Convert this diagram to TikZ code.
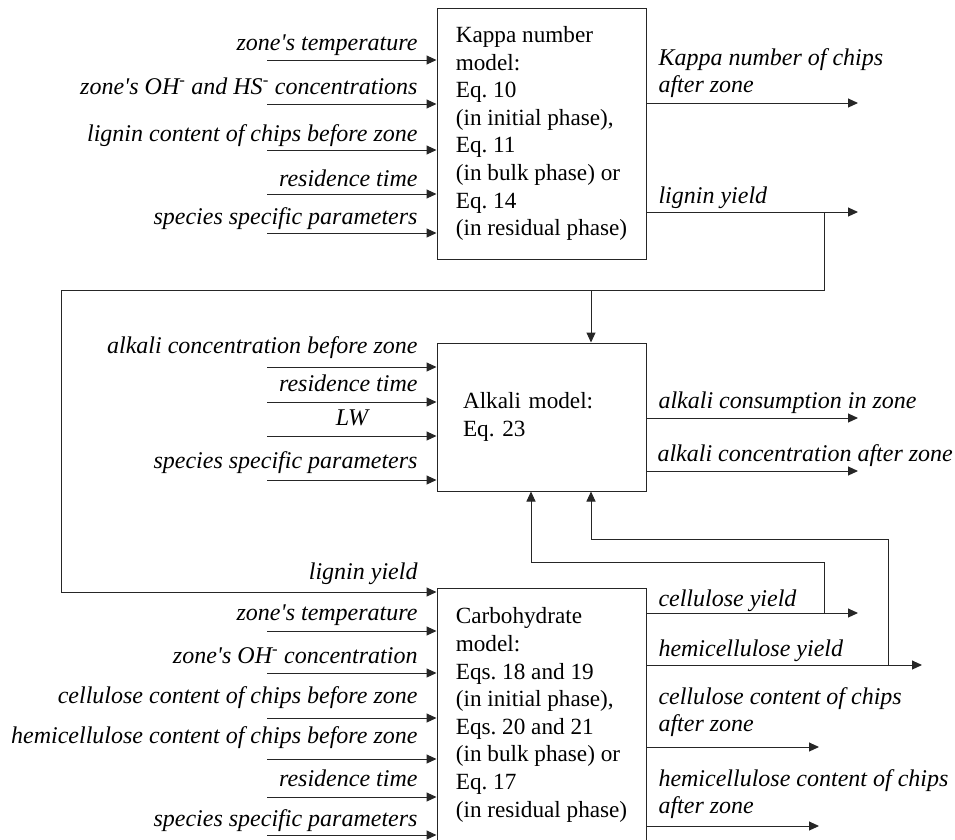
\documentclass[tikz,border=0pt]{standalone}
\usepackage{fontspec}
\setmainfont{Liberation Serif}
\usetikzlibrary{arrows.meta}
\frenchspacing
\newcommand{\apo}{\textquotesingle}
\begin{document}
\begin{tikzpicture}[x=1pt,y=-1pt,line width=1pt,
  arr/.style={draw=black!85,-{Triangle[length=10pt,width=9pt]}},
  model/.style={draw=black!85,minimum width=209pt,inner xsep=0pt,
    inner ysep=0pt,align=left,font=\fontsize{23.2}{27.6}\selectfont},
  lbl/.style={inner sep=0pt,yshift=-4pt,font=\fontsize{24}{27}\selectfont\itshape},
  lbll/.style={lbl,anchor=mid east},
  lblr/.style={lbl,anchor=mid west},
  lblr2/.style={lbl,anchor=west,align=left,yshift=1pt}]
\clip (0,0) rectangle (955,839);

% model blocks
\node[model,minimum height=251pt] (kappa) at (541.5,133.5)
  {Kappa number\\model:\\Eq. 10\\(in initial phase),\\Eq. 11\\(in bulk phase) or\\Eq. 14\\(in residual phase)};
\node[model,minimum height=148pt,text width=157pt,inner xsep=26pt] (alkali) at (541.5,417)
  {Alkali model:\\Eq. 23};
\node[model,minimum height=254pt] (carbo) at (541.5,715)
  {Carbohydrate\\model:\\Eqs. 18 and 19\\(in initial phase),\\Eqs. 20 and 21\\(in bulk phase) or\\Eq. 17\\(in residual phase)};

% inputs of the kappa number model
\foreach \n/\y in {1/60,2/104,3/150,4/194,5/233}{
  \coordinate (ki\n) at (267,\y);
  \draw[arr] (ki\n) -- (ki\n -| kappa.west);
}
\node[lbll] (kl1) at (418,44) {zone\apo s temperature};
\node[lbll] (kl2) at (418,88) {zone\apo s OH\textsuperscript{-} and HS\textsuperscript{-} concentrations};
\node[lbll] (kl3) at (418,135) {lignin content of chips before zone};
\node[lbll] (kl4) at (418,180) {residence time};
\node[lbll] (kl5) at (418,218) {species specific parameters};

% outputs of the kappa number model
\coordinate (ko1) at (858,103);
\coordinate (ko2) at (858,212);
\draw[arr] (ko1 -| kappa.east) -- (ko1);
\draw[arr] (ko2 -| kappa.east) -- (ko2);
\node[lblr2] (kol1) at (658,70) {Kappa number of chips\\after zone};
\node[lblr] (kol2) at (658,197) {lignin yield};

% lignin yield fed to the alkali and carbohydrate models
\coordinate (lyb) at (824,212);
\coordinate (lyc) at (61,290);
\coordinate (lyt) at (591,290);
\coordinate (ci0) at (61,592);
\draw[arr] (lyb) |- (lyc) |- (ci0 -| carbo.west);
\draw[arr] (lyt) -- (lyt |- alkali.north);

% inputs of the alkali model
\foreach \n/\y in {1/367,2/402,3/436,4/480}{
  \coordinate (ai\n) at (267,\y);
  \draw[arr] (ai\n) -- (ai\n -| alkali.west);
}
\node[lbll] (al1) at (418,347) {alkali concentration before zone};
\node[lbll] (al2) at (418,385) {residence time};
\node[lbl,anchor=mid] (al3) at (352,419) {LW};
\node[lbll] (al4) at (418,462) {species specific parameters};

% outputs of the alkali model
\coordinate (ao1) at (858,418);
\coordinate (ao2) at (858,471);
\draw[arr] (ao1 -| alkali.east) -- (ao1);
\draw[arr] (ao2 -| alkali.east) -- (ao2);
\node[lblr] (aol1) at (658,402) {alkali consumption in zone};
\node[lblr] (aol2) at (657,455) {alkali concentration after zone};

% inputs of the carbohydrate model
\foreach \n/\y in {1/631,2/673,3/718,4/759,5/797,6/835}{
  \coordinate (ci\n) at (267,\y);
  \draw[arr] (ci\n) -- (ci\n -| carbo.west);
}
\node[lbll] (cl0) at (418,573) {lignin yield};
\node[lbll] (cl1) at (418,614) {zone\apo s temperature};
\node[lbll] (cl2) at (418,657) {zone\apo s OH\textsuperscript{-} concentration};
\node[lbll] (cl3) at (418,697) {cellulose content of chips before zone};
\node[lbll] (cl4) at (418,737) {hemicellulose content of chips before zone};
\node[lbll] (cl5) at (418,780) {residence time};
\node[lbll] (cl6) at (418,820) {species specific parameters};

% outputs of the carbohydrate model
\coordinate (co1) at (858,613);
\coordinate (co2) at (922,665);
\coordinate (co3) at (819,747);
\coordinate (co4) at (819,826);
\foreach \n in {1,2,3,4}{
  \draw[arr] (co\n -| carbo.east) -- (co\n);
}
\node[lblr] (col1) at (658,600) {cellulose yield};
\node[lblr] (col2) at (658,650) {hemicellulose yield};
\node[lblr2] (col3) at (658,709.5) {cellulose content of chips\\after zone};
\node[lblr2] (col4) at (658,791) {hemicellulose content of chips\\after zone};

% cellulose and hemicellulose yields fed back to the alkali model
\coordinate (cyb) at (824,613);
\coordinate (cyt) at (531,562);
\coordinate (hyb) at (888,665);
\coordinate (hyt) at (591,539);
\draw[arr] (cyb) |- (cyt) -- (cyt |- alkali.south);
\draw[arr] (hyb) |- (hyt) -- (hyt |- alkali.south);
\end{tikzpicture}
\end{document}
